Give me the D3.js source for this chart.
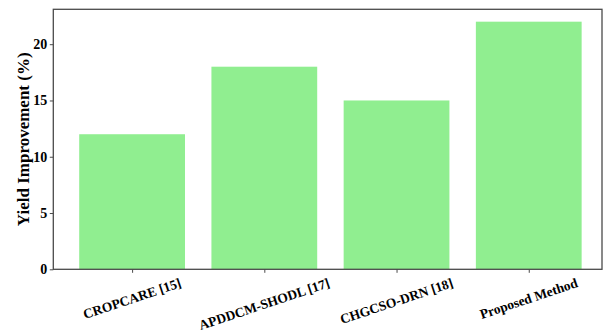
<!DOCTYPE html>
<html><head><meta charset="utf-8">
<script src="https://cdn.jsdelivr.net/npm/d3@7"></script>
<style>body{margin:0;background:#fff;}svg text{font-family:"Liberation Serif","Times New Roman",serif;font-weight:bold;}</style>
</head><body><svg id="c" width="607" height="334"></svg>
<script>
const categories = ["CROPCARE [15]", "APDDCM-SHODL [17]", "CHGCSO-DRN [18]", "Proposed Method"];
const values = [12, 18, 15, 22];
const yTicks = [0, 5, 10, 15, 20];
const yLabel = "Yield Improvement (%)";

const svg = d3.select("#c");
const L = 53.3, R = 602, T = 9.3, B = 269.3;
const n = categories.length;
const x = d3.scaleLinear().domain([-0.596, 3.554]).range([L, R]);
const y = d3.scaleLinear().domain([0, 23.1]).range([B, T]);
const bw = 0.8;

svg.selectAll("rect.bar").data(values).enter().append("rect")
  .attr("class", "bar")
  .attr("x", (d, i) => x(i - bw / 2))
  .attr("width", (d, i) => x(i + bw / 2) - x(i - bw / 2))
  .attr("y", d => y(d))
  .attr("height", d => y(0) - y(d))
  .attr("fill", "#90ee90");

// frame
svg.append("rect").attr("x", L).attr("y", T).attr("width", R - L).attr("height", B - T)
  .attr("fill", "none").attr("stroke", "#4a4a4a").attr("stroke-width", 1.3);

// y axis
const ya = svg.append("g").attr("transform", `translate(${L},0)`)
  .call(d3.axisLeft(y).tickValues(yTicks).tickSize(3.5).tickPadding(2.5).tickFormat(d3.format("d")));
ya.select(".domain").remove();
ya.selectAll("line").attr("stroke", "#4a4a4a");
ya.selectAll("text").attr("font-size", 14).attr("fill", "#000")
  .style("font-family", '"Liberation Serif",serif').style("font-weight", "bold");

// x ticks
const xa = svg.append("g").attr("transform", `translate(0,${B})`)
  .call(d3.axisBottom(x).tickValues(d3.range(n)).tickSize(3.5).tickFormat(""));
xa.select(".domain").remove();
xa.selectAll("line").attr("stroke", "#4a4a4a");

const ang = 18.5, rad = ang * Math.PI / 180, fs = 13.5;
const labels = svg.selectAll("text.xl").data(categories).enter().append("text")
  .attr("class", "xl")
  .attr("font-size", fs)
  .attr("text-anchor", "middle")
  .attr("dominant-baseline", "central")
  .text(d => d);
labels.each(function (d, i) {
  const w = this.getComputedTextLength();
  const h = fs * 0.95;
  const bh = w * Math.sin(rad) + h * Math.cos(rad);
  const cx = x(i), cy = B + 7 + bh / 2;
  d3.select(this).attr("x", cx).attr("y", cy)
    .attr("transform", `rotate(${-ang},${cx},${cy})`);
});

// y label
svg.append("text")
  .attr("transform", `translate(23.5,${(T + B) / 2}) rotate(-90)`)
  .attr("text-anchor", "middle")
  .attr("dominant-baseline", "central")
  .attr("font-size", 17)
  .text(yLabel);
</script></body></html>
